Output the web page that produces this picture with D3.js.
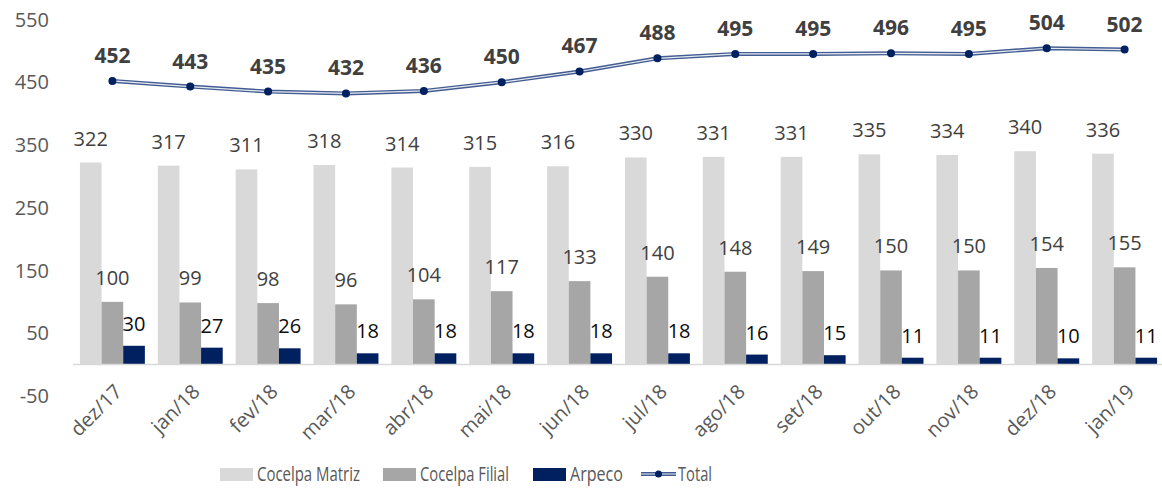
<!DOCTYPE html>
<html lang="pt">
<head>
<meta charset="UTF-8">
<script src="https://d3js.org/d3.v7.min.js"></script>
<style>
  body { margin: 0; background: #fff; }
  svg text { font-family: "Open Sans", "Noto Sans", sans-serif; }
</style>
</head>
<body>
<script>
    const months = ["dez/17", "jan/18", "fev/18", "mar/18", "abr/18", "mai/18", "jun/18",
        "jul/18", "ago/18", "set/18", "out/18", "nov/18", "dez/18", "jan/19"];
    const matriz = [322, 317, 311, 318, 314, 315, 316, 330, 331, 331, 335, 334, 340, 336];
    const filial = [100, 99, 98, 96, 104, 117, 133, 140, 148, 149, 150, 150, 154, 155];
    const arpeco = [30, 27, 26, 18, 18, 18, 18, 18, 16, 15, 11, 11, 10, 11];
    const total = [452, 443, 435, 432, 436, 450, 467, 488, 495, 495, 496, 495, 504, 502];
    const yTicks = [-50, 50, 150, 250, 350, 450, 550];

    const series = [
        { name: "Cocelpa Matriz", values: matriz, color: "#d9d9d9", label: "#404040", gap: 17 },
        { name: "Cocelpa Filial", values: filial, color: "#a6a6a6", label: "#404040", gap: 17 },
        { name: "Arpeco", values: arpeco, color: "#002060", label: "#0d0d0d", gap: 15 }
    ];

    const width = 1162;
    const height = 488;

    const svg = d3.select("body")
        .append("svg")
        .attr("width", width)
        .attr("height", height)
        .attr("viewBox", [0, 0, width, height]);

    const x = d3.scaleBand()
        .domain(months)
        .range([67, 1170])
        .padding(0.166);

    const x1 = d3.scaleBand()
        .domain(series.map(s => s.name))
        .range([0, x.bandwidth()]);

    const y = d3.scaleLinear()
        .domain([-50, 550])
        .range([396, 19.4]);

    // y axis labels only
    svg.append("g")
        .selectAll("text")
        .data(yTicks)
        .join("text")
        .attr("x", 49)
        .attr("y", d => y(d))
        .attr("dy", "0.36em")
        .attr("text-anchor", "end")
        .attr("fill", "#595959")
        .attr("font-size", 20)
        .text(d => d);

    // bars
    series.forEach(s => {
        const g = svg.append("g");
        g.selectAll("rect")
            .data(s.values)
            .join("rect")
            .attr("x", (d, i) => x(months[i]) + x1(s.name))
            .attr("width", x1.bandwidth())
            .attr("y", d => y(d))
            .attr("height", d => y(0) - y(d))
            .attr("fill", s.color);
        g.selectAll("text")
            .data(s.values)
            .join("text")
            .attr("x", (d, i) => x(months[i]) + x1(s.name) + x1.bandwidth() / 2)
            .attr("y", d => y(d) - s.gap)
            .attr("text-anchor", "middle")
            .attr("fill", s.label)
            .attr("font-size", 20)
            .text(d => d);
    });

    // baseline
    svg.append("line")
        .attr("x1", 73)
        .attr("x2", width)
        .attr("y1", y(0))
        .attr("y2", y(0))
        .attr("stroke", "#d9d9d9")
        .attr("stroke-width", 1.5);

    // x labels
    svg.append("g")
        .selectAll("text")
        .data(months)
        .join("text")
        .attr("transform", d => `translate(${x(d) + x.bandwidth() / 2 + 6},388) rotate(-45)`)
        .attr("text-anchor", "end")
        .attr("dy", "0.35em")
        .attr("fill", "#595959")
        .attr("font-size", 20)
        .text(d => d);

    // total line
    const cx = i => x(months[i]) + x.bandwidth() / 2;
    const line = d3.line()
        .x((d, i) => cx(i))
        .y(d => y(d));

    svg.append("path")
        .datum(total)
        .attr("fill", "none")
        .attr("stroke", "#435d92")
        .attr("stroke-width", 4)
        .attr("d", line);
    svg.append("path")
        .datum(total)
        .attr("fill", "none")
        .attr("stroke", "#e6eaf2")
        .attr("stroke-width", 1.2)
        .attr("d", line);

    svg.append("g")
        .selectAll("circle")
        .data(total)
        .join("circle")
        .attr("cx", (d, i) => cx(i))
        .attr("cy", d => y(d))
        .attr("r", 4)
        .attr("fill", "#002060");

    svg.append("g")
        .selectAll("text")
        .data(total)
        .join("text")
        .attr("x", (d, i) => cx(i))
        .attr("y", d => y(d) - 18)
        .attr("text-anchor", "middle")
        .attr("font-weight", "bold")
        .attr("fill", "#404040")
        .attr("font-size", 21)
        .text(d => d);

    // legend
    const legend = svg.append("g");
    const legendItems = [
        { name: "Cocelpa Matriz", x: 220, color: "#d9d9d9", len: 103 },
        { name: "Cocelpa Filial", x: 383, color: "#a6a6a6", len: 89 },
        { name: "Arpeco", x: 533, color: "#002060", len: 53 }
    ];
    legendItems.forEach(d => {
        legend.append("rect")
            .attr("x", d.x)
            .attr("y", 468)
            .attr("width", 33)
            .attr("height", 13)
            .attr("fill", d.color);
        legend.append("text")
            .attr("x", d.x + 37)
            .attr("y", 481)
            .attr("fill", "#595959")
            .attr("font-size", 20)
            .attr("textLength", d.len)
            .attr("lengthAdjust", "spacingAndGlyphs")
            .text(d.name);
    });
    legend.append("line")
        .attr("x1", 641).attr("x2", 676)
        .attr("y1", 474).attr("y2", 474)
        .attr("stroke", "#435d92").attr("stroke-width", 4);
    legend.append("line")
        .attr("x1", 641).attr("x2", 676)
        .attr("y1", 474).attr("y2", 474)
        .attr("stroke", "#e6eaf2").attr("stroke-width", 1.2);
    legend.append("circle")
        .attr("cx", 658.5).attr("cy", 474).attr("r", 3.5)
        .attr("fill", "#002060");
    legend.append("text")
        .attr("x", 678)
        .attr("y", 481)
        .attr("fill", "#595959")
        .attr("font-size", 20)
        .attr("textLength", 34)
        .attr("lengthAdjust", "spacingAndGlyphs")
        .text("Total");
</script>
</body>
</html>
